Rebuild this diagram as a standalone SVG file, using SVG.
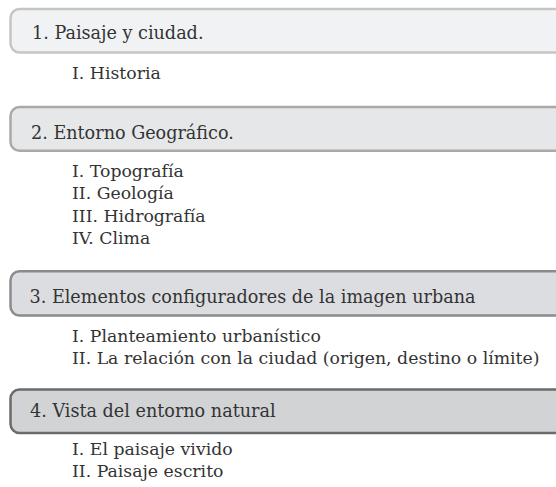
<svg xmlns="http://www.w3.org/2000/svg" width="556" height="487" viewBox="0 0 556 487">
<style>
.bar{stroke-width:2.5}
text{font-family:"DejaVu Serif","Liberation Serif",serif;font-size:17.3px;fill:#333}
text.h{font-size:17.6px}
</style>
<rect width="556" height="487" fill="#ffffff"/>
<g id="node1">
<rect class="bar" x="10.5" y="9" width="600" height="43.5" rx="9" fill="#f1f2f4" stroke="#c4c5c7"/>
<text class="h" x="32" y="39">1. Paisaje y ciudad.</text>
<text x="72" y="79">I. Historia</text>
</g>
<g id="node2">
<rect class="bar" x="10.5" y="107" width="600" height="43.7" rx="9" fill="#e6e7e9" stroke="#a8a9ab"/>
<text class="h" x="31" y="139">2. Entorno Geográfico.</text>
<text x="72" y="177">I. Topografía</text>
<text x="72" y="199">II. Geología</text>
<text x="72" y="221.5">III. Hidrografía</text>
<text x="72" y="243.5">IV. Clima</text>
</g>
<g id="node3">
<rect class="bar" x="10.5" y="271.3" width="600" height="44.3" rx="9" fill="#dcdde0" stroke="#8a8b8d"/>
<text class="h" x="29.5" y="303">3. Elementos configuradores de la imagen urbana</text>
<text x="72" y="341.5">I. Planteamiento urbanístico</text>
<text x="72" y="363.5">II. La relación con la ciudad (origen, destino o límite)</text>
</g>
<g id="node4">
<rect class="bar" x="10.5" y="389.5" width="600" height="43.6" rx="9" fill="#d2d3d5" stroke="#6a6b6d"/>
<text class="h" x="30" y="416.5">4. Vista del entorno natural</text>
<text x="72" y="455">I. El paisaje vivido</text>
<text x="72" y="476.5">II. Paisaje escrito</text>
</g>
<g id="connectors"></g>
</svg>
